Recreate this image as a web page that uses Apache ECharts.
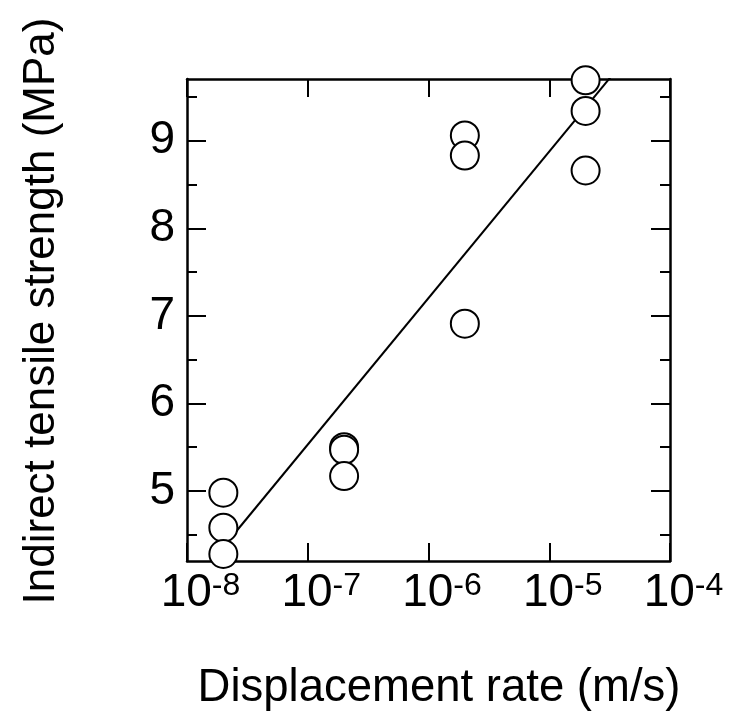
<!DOCTYPE html>
<html>
<head>
<meta charset="utf-8">
<script src="https://cdn.jsdelivr.net/npm/echarts@6/dist/echarts.min.js"></script>
<style>
  html, body { margin: 0; padding: 0; background: #fff; }
  #chart { width: 731px; height: 712px; }
</style>
</head>
<body>
<div id="chart"></div>
<script>
// Measured points: displacement rate (m/s) and indirect tensile strength (MPa)
const rateValues = [2e-8, 2e-8, 2e-8, 2e-7, 2e-7, 2e-7, 2e-6, 2e-6, 2e-6, 2e-5, 2e-5, 2e-5];
const strengthValues = [4.98, 4.58, 4.28, 5.50, 5.47, 5.17, 9.06, 8.83, 6.91, 9.69, 9.34, 8.66];

// Fitted straight line (semi-log), clipped at the plot frame
const fitRates = [2e-8, 1e-4];
const fitStrength = [4.36, 10.55];

// Tick positions
const xTicks = [1e-8, 1e-7, 1e-6, 1e-5, 1e-4];
const yMajorTicks = [5, 6, 7, 8, 9];
const yMinorTicks = [4.5, 5.5, 6.5, 7.5, 8.5, 9.5];

const FONT = '"Liberation Sans", Arial, Helvetica, sans-serif';
const INK = '#000';

const chart = echarts.init(document.getElementById('chart'), null, { renderer: 'canvas' });

const points = rateValues.map((r, i) => [r, strengthValues[i]]);
const fitLine = fitRates.map((r, i) => [r, fitStrength[i]]);

function powerLabel(v) {
  const e = Math.round(Math.log10(v));
  return '{p|}{b|10}{s|' + e + '}';
}

const yRange = { min: 4.2, max: 9.705 };
const xRange = { min: 1e-8, max: 1e-4 };

function yAxisDef(position, ticks, len, withLine, withLabel) {
  return Object.assign({
    type: 'value',
    position: position,
    axisLine: { show: withLine, onZero: false, lineStyle: { color: INK, width: 2.5 } },
    axisTick: { show: true, inside: true, length: len, customValues: ticks,
                lineStyle: { color: INK, width: 2 } },
    axisLabel: withLabel ? {
      show: true, customValues: ticks, margin: 12,
      color: INK, fontSize: 46, fontFamily: FONT
    } : { show: false },
    splitLine: { show: false }
  }, yRange);
}

function xAxisDef(position, withLabel) {
  return Object.assign({
    type: 'log',
    logBase: 10,
    position: position,
    axisLine: { show: true, onZero: false, lineStyle: { color: INK, width: 2.5 } },
    axisTick: { show: true, inside: true, length: 18, customValues: xTicks,
                lineStyle: { color: INK, width: 2 } },
    axisLabel: withLabel ? {
      show: true, customValues: xTicks, margin: 9,
      formatter: powerLabel,
      rich: {
        p: { width: 27 },
        b: { fontSize: 46, fontFamily: FONT, color: INK, lineHeight: 47 },
        s: { fontSize: 32, fontFamily: FONT, color: INK, verticalAlign: 'top', lineHeight: 32 }
      }
    } : { show: false },
    splitLine: { show: false },
    minorTick: { show: false }
  }, xRange);
}

chart.setOption({
  animation: false,
  backgroundColor: '#fff',
  grid: { left: 187, top: 79, width: 483, height: 482, containLabel: false },
  xAxis: [
    xAxisDef('bottom', true),
    xAxisDef('top', false)
  ],
  yAxis: [
    yAxisDef('left', yMajorTicks, 19, true, true),
    yAxisDef('left', yMinorTicks, 10, false, false),
    yAxisDef('right', yMajorTicks, 19, true, false),
    yAxisDef('right', yMinorTicks, 10, false, false)
  ],
  graphic: [
    {
      type: 'text', x: 42, y: 311, rotation: Math.PI / 2,
      style: {
        text: 'Indirect tensile strength (MPa)',
        fontSize: 44, fontFamily: FONT, fill: INK,
        align: 'center', verticalAlign: 'middle'
      }
    },
    {
      type: 'text', x: 439, y: 688,
      style: {
        text: 'Displacement rate (m/s)',
        fontSize: 45.5, fontFamily: FONT, fill: INK,
        align: 'center', verticalAlign: 'middle'
      }
    }
  ],
  series: [
    {
      type: 'line',
      data: fitLine,
      xAxisIndex: 0, yAxisIndex: 0,
      symbol: 'none',
      clip: true,
      lineStyle: { color: INK, width: 2 },
      z: 2
    },
    {
      type: 'scatter',
      data: points,
      xAxisIndex: 0, yAxisIndex: 0,
      symbol: 'circle',
      symbolSize: 28,
      itemStyle: { color: '#fff', borderColor: INK, borderWidth: 2, opacity: 1 },
      clip: false,
      z: 3
    }
  ]
});
</script>
</body>
</html>
